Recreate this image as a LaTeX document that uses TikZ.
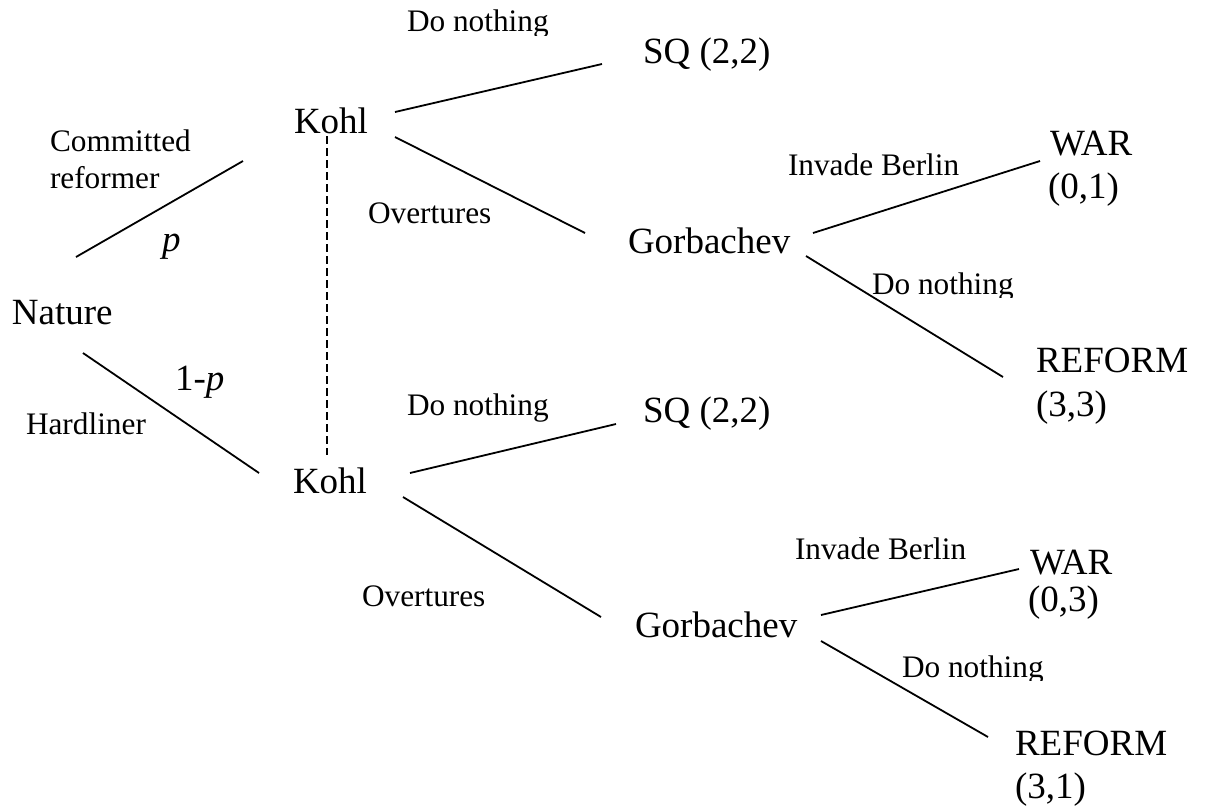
\documentclass[tikz,border=0pt]{standalone}
\usepackage{fontspec}
\setmainfont{Liberation Serif}
\begin{document}
\begin{tikzpicture}[x=1pt,y=-1pt,
  lbl/.style={anchor=base west,inner sep=0pt,outer sep=0pt,font=\fontsize{31.3}{36}\selectfont},
  big/.style={anchor=base west,inner sep=0pt,outer sep=0pt,font=\fontsize{37}{42}\selectfont},
  edge/.style={line width=1.8pt},
  info/.style={line width=1.6pt,dash pattern=on 8pt off 4pt}]
\useasboundingbox (0,0) rectangle (1214,807);
% players and outcomes
\node[big] (nature) at (12,324) {Nature};
\node[big] (kohlA) at (294,133) {Kohl};
\node[big] (kohlB) at (293,493) {Kohl};
\node[big] (sqA) at (643,63) {SQ (2,2)};
\node[big] (sqB) at (643,422) {SQ (2,2)};
\node[big] (gorbA) at (628,253) {Gorbachev};
\node[big] (gorbB) at (635,637) {Gorbachev};
\node[big] (warA) at (1050,155) {WAR};
\node[big] (warAp) at (1048,198) {(0,1)};
\node[big] (refA) at (1036,372) {REFORM};
\node[big] (refAp) at (1036,416) {(3,3)};
\node[big] (warB) at (1030,574) {WAR};
\node[big] (warBp) at (1028,611) {(0,3)};
\node[big] (refB) at (1015,755) {REFORM};
\node[big] (refBp) at (1015,798) {(3,1)};
% probabilities
\node[big] (pA) at (162,251) {\itshape p};
\node[big] (pB) at (175,390) {1-\textit{p}};
% move labels
\node[lbl] (cr1) at (50,151) {Committed};
\node[lbl] (cr2) at (50,188) {reformer};
\node[lbl] (hard) at (26,434) {Hardliner};
\node[lbl] (ovA) at (368,223) {Overtures};
\node[lbl] (ovB) at (362,606) {Overtures};
\node[lbl] (invA) at (788,175) {Invade Berlin};
\node[lbl] (invB) at (795,559) {Invade Berlin};
\node[lbl] (dnC) at (407,415) {Do nothing};
\begin{scope}
  \clip (0,0) rectangle (1214,35);
  \node[lbl] (dnA) at (407,31) {Do nothing};
\end{scope}
\begin{scope}
  \clip (0,0) rectangle (1214,297);
  \node[lbl] (dnB) at (872,294) {Do nothing};
\end{scope}
\begin{scope}
  \clip (0,0) rectangle (1214,680);
  \node[lbl] (dnD) at (902,677) {Do nothing};
\end{scope}
% branch end points
\coordinate (n1) at (76,257);   \coordinate (k1) at (243,161);
\coordinate (n2) at (83,353);   \coordinate (k2) at (259,473);
\coordinate (kA1) at (395,112); \coordinate (sA) at (602,64);
\coordinate (kA2) at (395,137); \coordinate (gA) at (585,233);
\coordinate (gA1) at (813,233); \coordinate (wA) at (1040,161);
\coordinate (gA2) at (806,256); \coordinate (rA) at (1003,377);
\coordinate (kB1) at (410,473); \coordinate (sB) at (616,424);
\coordinate (kB2) at (403,497); \coordinate (gB) at (601,617);
\coordinate (gB1) at (821,615); \coordinate (wB) at (1019,569);
\coordinate (gB2) at (821,641); \coordinate (rB) at (988,737);
\coordinate (d1) at (327,136);  \coordinate (d2) at (327,455);
\draw[edge] (n1) -- (k1);
\draw[edge] (n2) -- (k2);
\draw[edge] (kA1) -- (sA);
\draw[edge] (kA2) -- (gA);
\draw[edge] (gA1) -- (wA);
\draw[edge] (gA2) -- (rA);
\draw[edge] (kB1) -- (sB);
\draw[edge] (kB2) -- (gB);
\draw[edge] (gB1) -- (wB);
\draw[edge] (gB2) -- (rB);
\draw[info] (d1) -- (d2);
\end{tikzpicture}
\end{document}
